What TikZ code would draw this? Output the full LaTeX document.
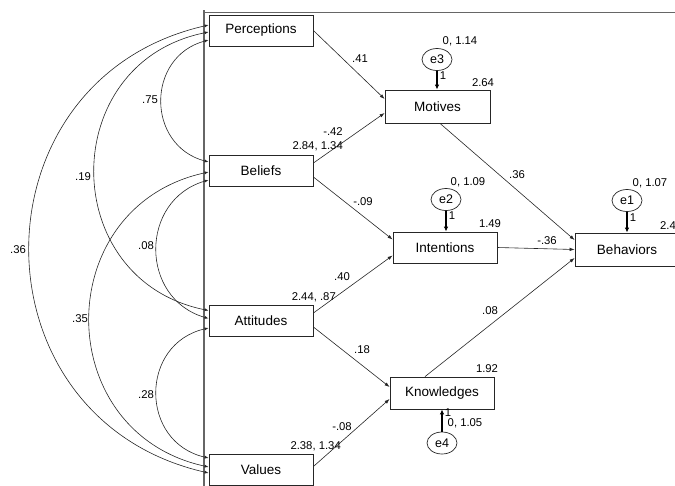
\documentclass[tikz,border=0pt]{standalone}
\usepackage{fontspec}
\setmainfont{Liberation Sans}
\usetikzlibrary{arrows.meta,calc,shapes.geometric}
\begin{document}
\begin{tikzpicture}[x=1pt,y=-1pt,
  var/.style={draw=black!85,line width=0.8pt,minimum width=104pt,minimum height=31pt,inner sep=0pt,font=\fontsize{13.5}{15}\selectfont},
  err/.style={draw=black!85,line width=0.7pt,ellipse,minimum width=30pt,minimum height=22pt,inner sep=0pt,font=\fontsize{12.5}{14}\selectfont},
  lab/.style={inner sep=0pt,font=\fontsize{11.3}{13}\selectfont},
  reg/.style={draw=black!85,line width=0.6pt,-{Latex[length=5pt,width=3.5pt]}},
  erra/.style={draw=black,line width=1.4pt,-{Latex[length=5pt,width=4.5pt]}},
  cov/.style={draw=black!85,line width=0.6pt,{Latex[length=4pt,width=3pt]}-{Latex[length=4pt,width=3pt]}},
  frame/.style={draw=black!60}]
\clip (0,0) rectangle (675,485);
% frame lines
\coordinate (ft) at (204,10);
\coordinate (fb) at (204,486);
\coordinate (fr) at (676,12);
\coordinate (fl) at (204,12);
\draw[frame,line width=1.5pt] (ft) -- (fb);
\draw[frame,line width=1pt] (fl) -- (fr);
% exogenous boxes
\node[var] (perc) at (261,30.5) {Perceptions};
\node[var] (bel) at (261,170.5) {Beliefs};
\node[var] (att) at (261,320.5) {Attitudes};
\node[var] (val) at (261,469.5) {Values};
% endogenous boxes
\node[var,minimum width=105pt,minimum height=33pt] (mot) at (437.5,106.5) {Motives};
\node[var] (int) at (445,247.5) {Intentions};
\node[var,minimum height=32pt] (kno) at (442,393) {Knowledges};
\node[var,minimum height=33pt] (beh) at (627,249.5) {Behaviors};
% errors
\node[err] (e3) at (437,59.5) {e3};
\node[err] (e2) at (446,199.5) {e2};
\node[err] (e1) at (627,200.5) {e1};
\node[err] (e4) at (442,443) {e4};
% error arrows
\draw[erra] (e3.south) -- (e3.south |- mot.north);
\draw[erra] (e2.south) -- (e2.south |- int.north);
\draw[erra] (e1.south) -- (e1.south |- beh.north);
\draw[erra] (e4.north) -- (e4.north |- kno.south);
% regressions
\draw[reg] (perc.east) -- ($(mot.west)+(0,-7.5)$);
\draw[reg] ($(bel.east)+(0,-7.5)$) -- ($(mot.west)+(0,6.5)$);
\draw[reg] ($(bel.east)+(0,6.5)$) -- ($(int.west)+(0,-8)$);
\draw[reg] ($(att.east)+(0,-7.5)$) -- ($(int.west)+(0,8)$);
\draw[reg] ($(att.east)+(0,6.5)$) -- ($(kno.west)+(0,-6)$);
\draw[reg] ($(val.east)+(0,-3)$) -- ($(kno.west)+(0,6)$);
\draw[reg] ($(mot.south)+(2.5,0)$) -- ($(beh.west)+(0,-9.5)$);
\draw[reg] (int.east) -- (beh.west);
\draw[reg] ($(kno.north)+(-17,0)$) -- ($(beh.west)+(0,8.5)$);
% covariances
\draw[cov] ($(perc.west)+(0,9.5)$) .. controls +(-62.7,16.5) and +(-62.7,-16.5) .. ($(bel.west)+(0,-8.5)$);
\draw[cov] ($(perc.west)+(0,1.5)$) .. controls +(-152,30.4) and +(-152,-30.4) .. ($(att.west)+(0,-10)$);
\draw[cov] ($(perc.west)+(0,-5.5)$) .. controls +(-238.7,54.2) and +(-238.7,-54.2) .. ($(val.west)+(0,3.5)$);
\draw[cov] ($(bel.west)+(0,9.5)$) .. controls +(-69.3,19.9) and +(-69.3,-19.9) .. ($(att.west)+(0,-2)$);
\draw[cov] ($(bel.west)+(0,1.5)$) .. controls +(-158.7,34.3) and +(-158.7,-34.3) .. ($(val.west)+(0,-2.5)$);
\draw[cov] ($(att.west)+(0,7.5)$) .. controls +(-69.3,15.6) and +(-69.3,-15.6) .. ($(val.west)+(0,-11.5)$);
% covariance labels
\node[lab] (c75) at (150,100) {.75};
\node[lab] (c19) at (83,177) {.19};
\node[lab] (c36) at (18,250) {.36};
\node[lab] (c08) at (146,246) {.08};
\node[lab] (c35) at (80,319) {.35};
\node[lab] (c28) at (146,395) {.28};
% means/variances of exogenous
\node[lab,anchor=east] (mbel) at (343,146) {2.84, 1.34};
\node[lab,anchor=east] (matt) at (336,297) {2.44, .87};
\node[lab,anchor=east] (mval) at (341,446) {2.38, 1.34};
% regression weights
\node[lab] (w41) at (360,59) {.41};
\node[lab] (w42) at (333,132) {-.42};
\node[lab] (w09) at (363,202) {-.09};
\node[lab] (w40) at (342,277) {.40};
\node[lab] (w18) at (362,350) {.18};
\node[lab] (w08b) at (342,427) {-.08};
\node[lab] (w36) at (517,175) {.36};
\node[lab] (w36b) at (547,241) {-.36};
\node[lab] (w08) at (490,311) {.08};
% intercepts
\node[lab] (i264) at (483,83) {2.64};
\node[lab] (i149) at (490,224) {1.49};
\node[lab] (i192) at (487,369) {1.92};
\node[lab,anchor=west] (i24) at (660,226) {2.4};
% error parameters
\node[lab] (v3) at (460,41) {0, 1.14};
\node[lab] (v2) at (468,182) {0, 1.09};
\node[lab] (v1) at (650,183) {0, 1.07};
\node[lab] (v4) at (465,423) {0, 1.05};
\node[lab] (o3) at (443,76) {1};
\node[lab] (o2) at (452,216) {1};
\node[lab] (o1) at (633,218) {1};
\node[lab] (o4) at (448,413) {1};
\end{tikzpicture}
\end{document}
